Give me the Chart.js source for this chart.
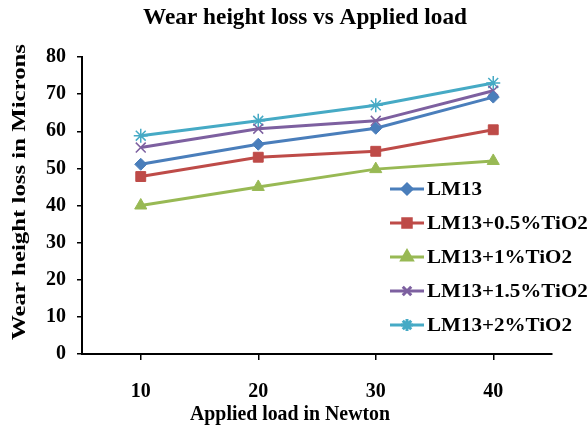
<!DOCTYPE html>
<html>
<head>
<meta charset="utf-8">
<script src="https://cdn.jsdelivr.net/npm/chart.js@4.4.0/dist/chart.umd.min.js"></script>
<style>
  html, body { margin: 0; padding: 0; background: #fff; }
  #wrap { width: 587px; height: 428px; }
</style>
</head>
<body>
<div id="wrap"><canvas id="c" width="587" height="428"></canvas></div>
<script>
// Applied load (N) on the category axis
const loads = [10, 20, 30, 40];

// Wear height loss (microns) per composition
const lm13      = [51.1, 56.5, 60.8, 69.2];
const lm13Ti05  = [47.8, 53.0, 54.6, 60.4];
const lm13Ti1   = [40.0, 45.0, 49.8, 52.0];
const lm13Ti15  = [55.6, 60.7, 62.8, 70.9];
const lm13Ti2   = [58.8, 62.8, 67.0, 73.0];

const seriesNames = ['LM13', 'LM13+0.5%TiO2', 'LM13+1%TiO2', 'LM13+1.5%TiO2', 'LM13+2%TiO2'];

const chartTitle = 'Wear height loss vs Applied load';
const xTitle = 'Applied load in Newton';
const yTitle = 'Wear height loss in Microns';

const SERIF = "'Liberation Serif', 'Times New Roman', serif";

const styles = [
  { color: '#4A7EBB', point: 'rectRot', radius: 6 },
  { color: '#BE4B48', point: 'rect', radius: 7 },
  { color: '#98B954', point: 'triangle', radius: 7 },
  { color: '#7D60A0', point: 'crossRot', radius: 7 },
  { color: '#46AAC5', point: 'star', radius: 7 }
];

const seriesValues = [lm13, lm13Ti05, lm13Ti1, lm13Ti15, lm13Ti2];

const datasets = seriesValues.map((vals, i) => ({
  label: seriesNames[i],
  data: vals,
  borderColor: styles[i].color,
  backgroundColor: styles[i].color,
  borderWidth: 3,
  pointStyle: styles[i].point,
  pointRadius: styles[i].radius,
  pointBorderWidth: (styles[i].point === 'crossRot' || styles[i].point === 'star') ? 1.5 : 1,
  pointBorderColor: styles[i].color,
  pointBackgroundColor: styles[i].color,
  tension: 0,
  fill: false
}));

// Draw text scaled horizontally to a given width (or by a given factor)
function fitText(ctx, text, x, y, font, width, align, factor) {
  ctx.save();
  ctx.font = font;
  ctx.fillStyle = '#000';
  ctx.textBaseline = 'middle';
  const w = ctx.measureText(text).width;
  const sx = width ? width / w : (factor || 1);
  ctx.translate(x, y);
  ctx.scale(sx, 1);
  ctx.textAlign = align || 'center';
  ctx.fillText(text, 0, 0);
  ctx.restore();
}

const decorations = {
  id: 'decorations',
  afterDraw(chart) {
    const ctx = chart.ctx;
    // chart title
    fitText(ctx, chartTitle, 305, 18, 'bold 23px ' + SERIF, 324);
    // x-axis title
    fitText(ctx, xTitle, 290, 415, 'bold 21px ' + SERIF, 200);
    // y-axis title (rotated)
    ctx.save();
    ctx.translate(20, 192);
    ctx.rotate(-Math.PI / 2);
    fitText(ctx, yTitle, 0, 0, 'bold 19px ' + SERIF, 296);
    ctx.restore();

    // legend
    const lx = 390, ly0 = 189, dy = 34;
    chart.data.datasets.forEach((ds, i) => {
      const y = ly0 + i * dy;
      ctx.save();
      ctx.strokeStyle = ds.borderColor;
      ctx.lineWidth = 3;
      ctx.beginPath();
      ctx.moveTo(lx, y);
      ctx.lineTo(lx + 34, y);
      ctx.stroke();
      ctx.fillStyle = ds.borderColor;
      Chart.helpers.drawPoint(ctx, {
        pointStyle: ds.pointStyle,
        radius: ds.pointRadius - 1,
        rotation: 0,
        borderWidth: ds.pointBorderWidth
      }, lx + 17, y);
      ctx.restore();
      fitText(ctx, ds.label, lx + 37, y + 1, 'bold 18px ' + SERIF, null, 'left', 1.17);
    });
  }
};

new Chart(document.getElementById('c'), {
  type: 'line',
  data: { labels: loads.map(String), datasets },
  options: {
    responsive: false,
    animation: false,
    devicePixelRatio: 1,
    layout: { padding: { top: 57, right: 35, left: 0, bottom: 0 } },
    plugins: {
      legend: { display: false },
      title: { display: false },
      tooltip: { enabled: false }
    },
    scales: {
      x: {
        type: 'category',
        offset: true,
        afterFit(scale) { scale.height = 74; },
        grid: { drawOnChartArea: false, drawTicks: true, tickLength: 6, color: '#000', lineWidth: 1.5, offset: false },
        border: { display: true, color: '#000', width: 2 },
        ticks: { color: '#000', font: { family: SERIF, size: 20, weight: 'bold' }, padding: 20, maxRotation: 0 }
      },
      y: {
        min: 0,
        max: 80,
        afterFit(scale) { scale.width = 82; },
        grid: { drawOnChartArea: false, drawTicks: true, tickLength: 5, color: '#000', lineWidth: 1.5 },
        border: { display: true, color: '#000', width: 2 },
        ticks: { stepSize: 10, color: '#000', font: { family: SERIF, size: 20, weight: 'bold' }, padding: 11 }
      }
    }
  },
  plugins: [decorations]
});
</script>
</body>
</html>
